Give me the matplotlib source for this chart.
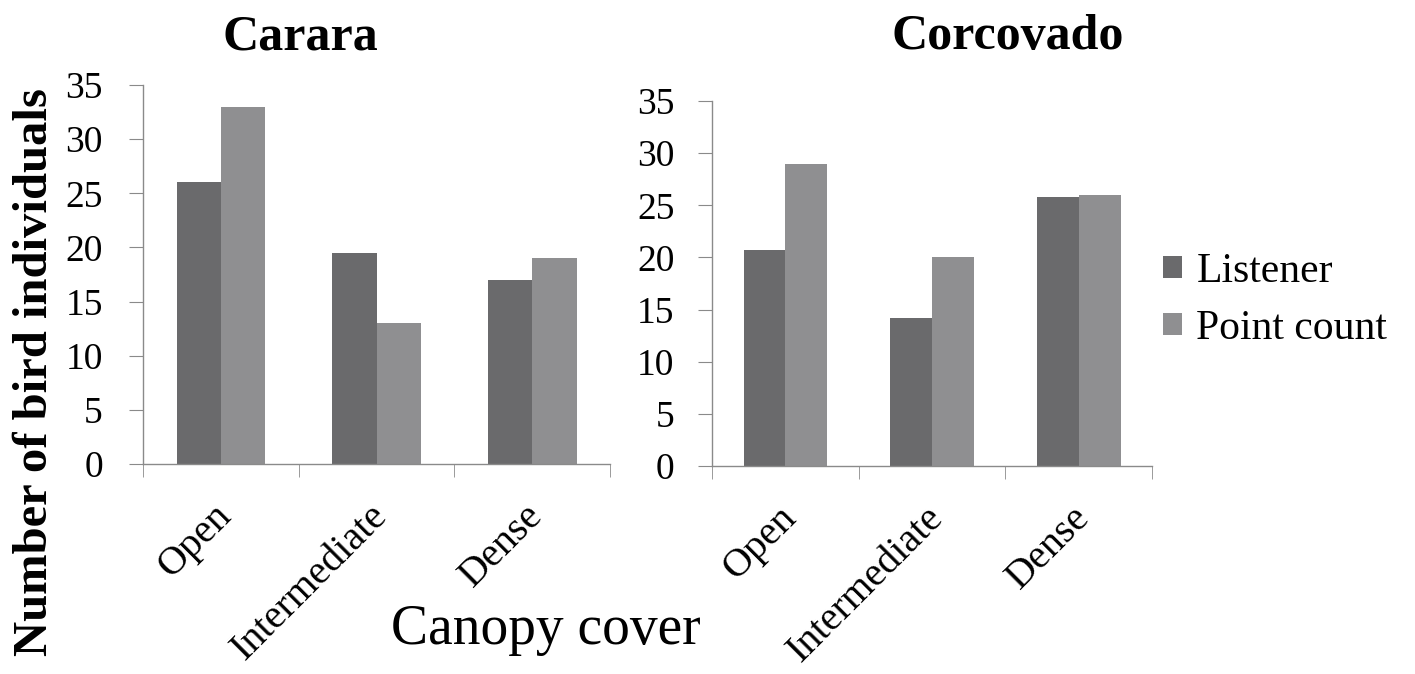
import matplotlib.pyplot as plt
import numpy as np

# données
categories = ["Open", "Intermediate", "Dense"]
series = ["Listener", "Point count"]
carara_listener = [26, 19.5, 17]
carara_point = [33, 13, 19]
corco_listener = [20.7, 14.2, 25.8]
corco_point = [29, 20, 26]
yticks = [0, 5, 10, 15, 20, 25, 30, 35]

c_list = "#6a6a6c"
c_point = "#8f8f91"
spine_c = "#8a8a8a"

plt.rcParams['font.family'] = ['Liberation Serif', 'DejaVu Serif']

fig = plt.figure(figsize=(14.15, 6.74), dpi=100)
ax1 = fig.add_axes([0.1011, 0.3116, 0.330, 0.5623])
ax2 = fig.add_axes([0.5032, 0.3086, 0.311, 0.5415])


def draw_panel(ax, listener, point, ypad):
    x = np.arange(len(categories))
    w = 0.285
    ax.bar(x - w / 2, listener, w, color=c_list, label=series[0])
    ax.bar(x + w / 2, point, w, color=c_point, label=series[1])
    ax.set_xlim(-0.5, 2.5)
    ax.set_ylim(0, 35)
    ax.set_yticks(yticks)
    ax.set_yticklabels([str(v) for v in yticks], fontsize=27)
    # étiquettes légèrement à gauche du centre (comme dans l'original)
    ax.set_xticks(x - 0.05)
    ax.set_xticklabels(categories, fontsize=29, rotation=45, ha="right",
                       rotation_mode="anchor")
    ax.set_xticks([-0.5, 0.5, 1.5, 2.5], minor=True)
    ax.tick_params(axis="x", which="major", length=0, pad=24)
    ax.tick_params(axis="x", which="minor", length=9, color=spine_c, direction="out")
    ax.tick_params(axis="y", length=10, color=spine_c, pad=ypad)
    for s in ["top", "right"]:
        ax.spines[s].set_visible(False)
    for s in ["left", "bottom"]:
        ax.spines[s].set_color(spine_c)
        ax.spines[s].set_linewidth(1.0)


draw_panel(ax1, carara_listener, carara_point, 19)
draw_panel(ax2, corco_listener, corco_point, 17)

fig.text(0.212, 0.945, "Carara", fontsize=36, fontweight="bold", ha="center", va="center")
fig.text(0.712, 0.945, "Corcovado", fontsize=36, fontweight="bold", ha="center", va="center")
fig.text(0.025, 0.448, "Number of bird individuals", fontsize=35, fontweight="bold",
         rotation=90, ha="center", va="center")
fig.text(0.386, 0.065, "Canopy cover", fontsize=40, ha="center", va="center")

handles, labels = ax2.get_legend_handles_labels()
fig.legend(handles, labels, loc="center left", bbox_to_anchor=(0.822, 0.555),
           frameon=False, fontsize=30, handlelength=0.45, handleheight=0.45,
           handletextpad=0.35, labelspacing=0.45, borderpad=0, borderaxespad=0)

fig.savefig("out.png", dpi=100, facecolor="white")
